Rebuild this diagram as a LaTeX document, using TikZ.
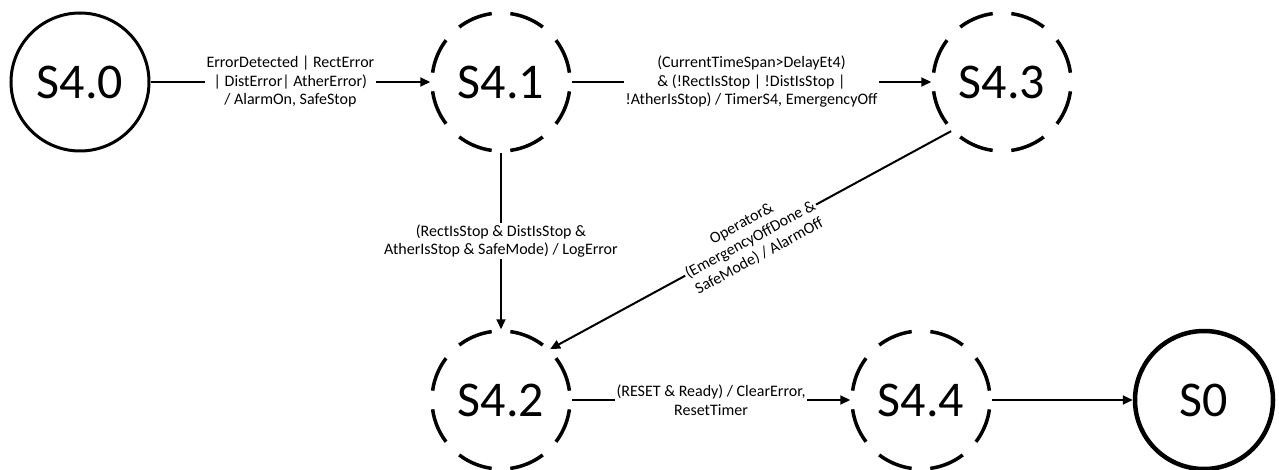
\documentclass[tikz,border=0pt]{standalone}
\usepackage{fontspec}
\setmainfont{Carlito}
\usetikzlibrary{arrows.meta}
\begin{document}
\begin{tikzpicture}[x=1pt,y=-1pt,
 state/.style={circle,minimum size=138pt,inner sep=0pt,font=\fontsize{50}{60}\selectfont},
 solidstate/.style={state,draw,line width=3pt},
 finalstate/.style={state,draw,line width=4.5pt},
 dashstate/.style={state,draw,line width=3.5pt,dash pattern=on 35.5pt off 18.69pt,dash phase=44.85pt},
 tr/.style={line width=2pt,-{Triangle[length=10pt,width=9pt]}},
 lbl/.style={fill=white,align=center,inner sep=1.5pt,font=\fontsize{16}{18.5}\selectfont}]
\useasboundingbox (0,0) rectangle (1279,470);
\node[solidstate] (s40) at (80,82) {S4.0};
\node[dashstate] (s41) at (501,82) {S4.1};
\node[dashstate] (s43) at (1002,82) {S4.3};
\node[dashstate] (s42) at (501,400) {S4.2};
\node[dashstate] (s44) at (921,400) {S4.4};
\node[finalstate] (s0) at (1204,400) {S0};
\draw[tr] (s40) -- node[lbl] {ErrorDetected | RectError\\| DistError| AtherError)\\/ AlarmOn, SafeStop} (s41);
\draw[tr] (s41) -- node[lbl] {(CurrentTimeSpan>DelayEt4)\\\& (!RectIsStop | !DistIsStop |\\!AtherIsStop) / TimerS4, EmergencyOff} (s43);
\draw[tr] (s41) -- node[lbl] {(RectIsStop \& DistIsStop \&\\AtherIsStop \& SafeMode) / LogError} (s42);
\draw[tr] (s43.224) -- node[lbl,sloped] {Operator\&\\(EmergencyOffDone \&\\SafeMode) / AlarmOff} (s42.46);
\draw[tr] (s42) -- node[lbl] {(RESET \& Ready) / ClearError,\\ResetTimer} (s44);
\draw[tr] (s44) -- (s0);
\end{tikzpicture}
\end{document}
